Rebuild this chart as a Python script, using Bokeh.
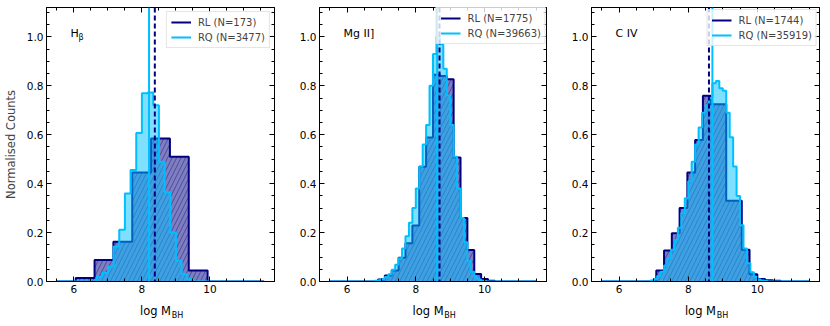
import numpy as np
from bokeh.plotting import figure
from bokeh.layouts import row
from bokeh.models import (Range1d, SingleIntervalTicker, FixedTicker, PrintfTickFormatter,
                          CustomJSTickFormatter, LinearAxis, Legend, LegendItem, Label, Span)
from bokeh.embed import file_html
from bokeh.resources import INLINE

FONT = "DejaVu Sans"
RL_COLOR = "#000080"
RQ_COLOR = "#00bfff"

# ---------------- data ----------------
panel_titles = ["H", "Mg II]", "C IV"]
rl_n = [173, 1775, 1744]
rq_n = [3477, 39663, 35919]
rl_median = [8.38, 8.69, 8.60]
rq_median = [8.21, 8.62, 8.70]
x_limits = [(5.195, 11.899), (5.2, 11.8), (5.2, 11.8)]
hist_span = [(5.5, 11.594), (5.5, 11.5), (5.5, 11.5)]

# H-beta
hb_rl_start, hb_rl_width = 6.054, 0.554
hb_rl_counts = [0.014, 0.088, 0.162, 0.446, 0.585, 0.510, 0.045]
hb_rq_start, hb_rq_width = 6.667, 0.16667
hb_rq_counts = [0.018, 0.035, 0.060, 0.143, 0.212, 0.360, 0.456, 0.607, 0.769,
                0.773, 0.720, 0.490, 0.365, 0.200, 0.085, 0.030, 0.010]

# Mg II
mg_rl_start, mg_rl_width = 6.9, 0.2
mg_rl_counts = [0.008, 0.025, 0.045, 0.097, 0.156, 0.229, 0.469, 0.589, 0.845,
                0.840, 0.827, 0.507, 0.260, 0.129, 0.031, 0.010, 0.003]
mg_rq_start, mg_rq_width = 6.8, 0.1
mg_rq_counts = [0.003, 0.005, 0.010, 0.018, 0.030, 0.048, 0.068, 0.095, 0.135,
                0.185, 0.240, 0.300, 0.380, 0.470, 0.560, 0.640, 0.800, 0.930,
                1.000, 0.970, 0.870, 0.760, 0.640, 0.510, 0.380, 0.260, 0.160,
                0.085, 0.040, 0.018, 0.008, 0.003]

# C IV
civ_rl_start, civ_rl_width = 7.075, 0.225
civ_rl_counts = [0.045, 0.127, 0.197, 0.300, 0.446, 0.578, 0.759, 0.725, 0.725,
                 0.330, 0.330, 0.130, 0.030, 0.010, 0.005, 0.003]
civ_rq_start, civ_rq_width = 6.9, 0.1
civ_rq_counts = [0.004, 0.010, 0.022, 0.040, 0.065, 0.095, 0.130, 0.170, 0.220,
                 0.280, 0.340, 0.410, 0.490, 0.560, 0.630, 0.690, 0.720, 0.750,
                 0.810, 0.820, 0.790, 0.780, 0.690, 0.590, 0.470, 0.350, 0.230,
                 0.135, 0.075, 0.038, 0.018, 0.008, 0.004, 0.002]

rl_hists = [(hb_rl_start, hb_rl_width, hb_rl_counts),
            (mg_rl_start, mg_rl_width, mg_rl_counts),
            (civ_rl_start, civ_rl_width, civ_rl_counts)]
rq_hists = [(hb_rq_start, hb_rq_width, hb_rq_counts),
            (mg_rq_start, mg_rq_width, mg_rq_counts),
            (civ_rq_start, civ_rq_width, civ_rq_counts)]

# ---------------- layout ----------------
frame_ws = [228, 227, 228]
frame_h = 274
borders_left = [45, 25, 25]
borders_right = [20, 20, 2]
legend_margin = [4, 0, 2]


def step_path(start, width, counts, lo, hi):
    edges = start + width * np.arange(len(counts) + 1)
    xs = [lo, edges[0]]
    ys = [0.0, 0.0]
    for i, c in enumerate(counts):
        xs += [edges[i], edges[i + 1]]
        ys += [c, c]
    xs += [edges[-1], hi]
    ys += [0.0, 0.0]
    return xs, ys


def style_axis(ax, labels=True):
    ax.axis_line_color = "black"
    ax.major_tick_line_color = "black"
    ax.minor_tick_line_color = "black"
    ax.major_tick_in = 5
    ax.major_tick_out = 0
    ax.minor_tick_in = 3
    ax.minor_tick_out = 0
    ax.major_label_text_font = FONT
    ax.major_label_text_color = "black"
    if labels:
        ax.major_label_text_font_size = "10.5px"
        ax.major_label_standoff = 3
    else:
        ax.formatter = CustomJSTickFormatter(code="return ''")
        ax.major_label_standoff = 0


def text_axis(pos, text, size, standoff):
    ax = LinearAxis(ticker=FixedTicker(ticks=[pos], minor_ticks=[]),
                    formatter=CustomJSTickFormatter(code="return %r" % text))
    ax.axis_line_color = None
    ax.major_tick_line_color = None
    ax.minor_tick_line_color = None
    ax.major_tick_in = 0
    ax.major_tick_out = 0
    ax.minor_tick_in = 0
    ax.minor_tick_out = 0
    ax.major_label_text_font = FONT
    ax.major_label_text_color = "black"
    ax.major_label_text_font_size = size
    ax.major_label_standoff = standoff
    return ax


figs = []
for i in range(3):
    xlo, xhi = x_limits[i]
    fw = frame_ws[i]
    p = figure(frame_width=fw, frame_height=frame_h,
               x_range=Range1d(xlo, xhi), y_range=Range1d(0, 1.12),
               output_backend="svg", toolbar_location=None,
               min_border_left=borders_left[i], min_border_right=borders_right[i],
               min_border_top=7, min_border_bottom=43)
    p.xgrid.visible = False
    p.ygrid.visible = False
    p.outline_line_color = "black"
    p.background_fill_color = "white"

    p.xaxis.ticker = SingleIntervalTicker(interval=2, num_minor_ticks=4)
    p.yaxis.ticker = SingleIntervalTicker(interval=0.2, num_minor_ticks=4)
    p.xaxis.formatter = PrintfTickFormatter(format="%d")
    p.yaxis.formatter = PrintfTickFormatter(format="%.1f")
    style_axis(p.xaxis[0])
    style_axis(p.yaxis[0])

    top = LinearAxis(ticker=SingleIntervalTicker(interval=2, num_minor_ticks=4))
    style_axis(top, labels=False)
    p.add_layout(top, "above")
    right = LinearAxis(ticker=SingleIntervalTicker(interval=0.2, num_minor_ticks=4))
    style_axis(right, labels=False)
    p.add_layout(right, "right")

    # x axis label "log M_BH" (subscript via a second, raised text row)
    ppu = fw / (xhi - xlo)
    cx = (xlo + xhi) / 2
    p.add_layout(text_axis(round(cx - 5.0 / ppu, 3), "log M", "11.5px", 8), "below")
    p.add_layout(text_axis(round(cx + 17.0 / ppu, 3), "BH", "8px", -10), "below")

    if i == 0:
        p.yaxis[0].axis_label = "Normalised Counts"
        p.yaxis[0].axis_label_text_font = FONT
        p.yaxis[0].axis_label_text_font_style = "normal"
        p.yaxis[0].axis_label_text_font_size = "11.5px"
        p.yaxis[0].axis_label_standoff = 6

    lo, hi = hist_span[i]
    s, w, c = rl_hists[i]
    rx, ry = step_path(s, w, c, lo, hi)
    p.patch(rx, ry, fill_color=RL_COLOR, fill_alpha=0.5, line_alpha=0,
            hatch_pattern="/", hatch_color=RL_COLOR, hatch_alpha=0.85,
            hatch_scale=9, hatch_weight=0.5)
    rl_line = p.line(rx, ry, line_color=RL_COLOR, line_width=2)

    s, w, c = rq_hists[i]
    qx, qy = step_path(s, w, c, 5.5, 11.5)
    p.patch(qx, qy, fill_color=RQ_COLOR, fill_alpha=0.5, line_alpha=0)
    rq_line = p.line(qx, qy, line_color=RQ_COLOR, line_width=2)

    p.add_layout(Span(location=rq_median[i], dimension="height",
                      line_color=RQ_COLOR, line_width=2))
    p.add_layout(Span(location=rl_median[i], dimension="height",
                      line_color=RL_COLOR, line_width=2, line_dash="5 3"))

    legend = Legend(items=[LegendItem(label=f"RL (N={rl_n[i]})", renderers=[rl_line]),
                           LegendItem(label=f"RQ (N={rq_n[i]})", renderers=[rq_line])],
                    location="top_right", margin=legend_margin[i],
                    label_text_font=FONT, label_text_font_size="10px",
                    label_height=12, glyph_height=12, glyph_width=20,
                    label_standoff=7, spacing=3, padding=4,
                    background_fill_alpha=0.8,
                    border_line_color="#cccccc", border_line_width=1)
    p.add_layout(legend)

    # panel label
    tx = xlo + 24.0 / ppu
    p.add_layout(Label(x=tx, y=1.013, text=panel_titles[i], text_font=FONT,
                       text_font_size="11px", text_baseline="alphabetic",
                       text_align="left", text_color="black"))
    if i == 0:
        p.add_layout(Label(x=tx + 8.0 / ppu, y=0.998, text="β", text_font=FONT,
                           text_font_size="8px", text_baseline="alphabetic",
                           text_align="left", text_color="black"))
    figs.append(p)

layout = row(*figs)
open("out.html", "w").write(file_html(layout, INLINE))
